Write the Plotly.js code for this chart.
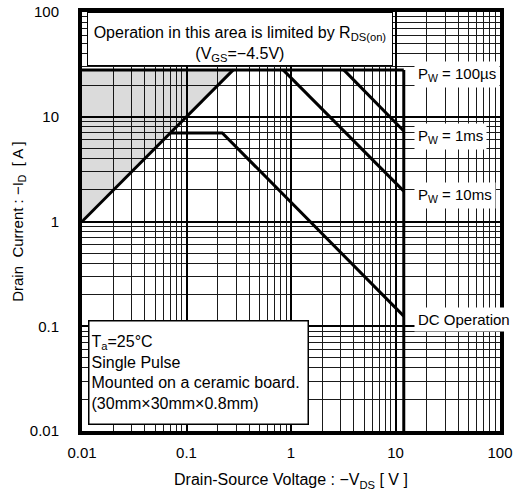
<!DOCTYPE html>
<html>
<head>
<meta charset="utf-8">
<script src="https://cdn.plot.ly/plotly-3.0.1.min.js"></script>
<style>
  html, body { margin: 0; padding: 0; background: #ffffff; }
  #chart { width: 515px; height: 495px; }
</style>
</head>
<body>
<div id="chart"></div>
<script>
// Safe operating area of a P-channel MOSFET (log-log)

// axis ticks
const xTickVals = [0.01, 0.1, 1, 10, 100];
const xTickText = ['0.01', '0.1', '1', '10', '100'];
const yTickVals = [0.01, 0.1, 1, 10, 100];
const yTickText = ['0.01', '0.1', '1', '10', '100'];

// region limited by R_DS(on)
const areaV = [0.01, 0.28, 0.01, 0.01];
const areaI = [1, 28, 28, 1];
const rdsV = [0.01, 0.28];
const rdsI = [1, 28];

// pulsed drain current limit (P_W = 100µs)
const pulseV = [0.01, 12];
const pulseI = [28, 28];

// drain-source voltage limit
const vdssV = [12, 12];
const vdssI = [28, 0.01];

// P_W = 1ms
const pw1msV = [3.2, 12];
const pw1msI = [28, 7.3];

// P_W = 10ms
const pw10msV = [0.84, 12];
const pw10msI = [28, 1.95];

// DC operation
const dcV = [0.07, 0.22, 12];
const dcI = [7, 7, 0.125];

const FONT = '"Liberation Sans", Arial, Helvetica, sans-serif';
const lineStyle = { color: '#000000', width: 3 };

function seg(x, y) {
  return { x: x, y: y, type: 'scatter', mode: 'lines', line: lineStyle,
           hoverinfo: 'skip', showlegend: false, cliponaxis: true };
}

const traces = [
  { x: areaV, y: areaI, type: 'scatter', mode: 'lines', fill: 'toself',
    fillcolor: 'rgba(0,0,0,0.14)', line: { width: 0, color: 'rgba(0,0,0,0)' },
    hoverinfo: 'skip', showlegend: false },
  seg(rdsV, rdsI),
  seg(pulseV, pulseI),
  seg(vdssV, vdssI),
  seg(pw1msV, pw1msI),
  seg(pw10msV, pw10msI),
  seg(dcV, dcI)
];

const gridAxis = {
  type: 'log',
  range: [-2, 2],
  tickmode: 'array',
  ticks: '',
  showline: true,
  mirror: true,
  linecolor: '#000000',
  linewidth: 4,
  showgrid: true,
  gridcolor: '#000000',
  gridwidth: 2,
  zeroline: false,
  tickfont: { family: FONT, size: 15, color: '#000000' },
  minor: { dtick: 'D1', showgrid: true, gridcolor: '#1a1a1a', gridwidth: 1, ticks: '' }
};

function rightLabel(text, yVal) {
  return {
    xref: 'x', yref: 'y', x: Math.log10(15), y: Math.log10(yVal),
    xanchor: 'left', yanchor: 'middle', showarrow: false,
    text: text, bgcolor: '#ffffff', borderpad: 3,
    font: { family: FONT, size: 15, color: '#000000' }
  };
}

const layout = {
  width: 515,
  height: 495,
  margin: { l: 82, r: 15, t: 12, b: 64, pad: 0 },
  paper_bgcolor: '#ffffff',
  plot_bgcolor: '#ffffff',
  font: { family: FONT, size: 15, color: '#000000' },
  showlegend: false,
  xaxis: Object.assign({}, gridAxis, {
    tickvals: xTickVals, ticktext: xTickText,
    ticklabelstandoff: 5,
    title: { text: 'Drain-Source Voltage : \u2212V<sub>DS</sub> [ V ]',
             font: { family: FONT, size: 16, color: '#000000' }, standoff: 15 }
  }),
  yaxis: Object.assign({}, gridAxis, {
    tickvals: yTickVals, ticktext: yTickText,
    ticklabelstandoff: 16,
    title: { text: 'Drain\u00a0 Current : \u2212I<sub>D</sub>\u00a0 [ A ]',
             font: { family: FONT, size: 15, color: '#000000' }, standoff: 4 }
  }),
  annotations: [
    {
      xref: 'paper', yref: 'paper', x: 0.012, y: 1, xanchor: 'left', yanchor: 'top',
      showarrow: false, align: 'center', valign: 'bottom', width: 302, height: 50,
      text: 'Operation in this area is limited by R<sub>DS(on)</sub><br>(V<sub>GS</sub>=\u22124.5V)',
      bgcolor: '#ffffff', bordercolor: '#000000', borderwidth: 1, borderpad: 1,
      font: { family: FONT, size: 16, color: '#000000' }
    },
    {
      xref: 'paper', yref: 'paper', x: 0.014, y: 0.014, xanchor: 'left', yanchor: 'bottom',
      showarrow: false, align: 'left', width: 214, height: 98,
      text: 'T<sub>a</sub>=25\u00b0C<br>Single Pulse<br>Mounted on a ceramic board.<br>(30mm\u00d730mm\u00d70.8mm)',
      bgcolor: '#ffffff', bordercolor: '#000000', borderwidth: 1.5, borderpad: 2,
      font: { family: FONT, size: 16, color: '#000000' }
    },
    rightLabel('P<sub>W</sub> = 100\u00b5s', 25.1),
    rightLabel('P<sub>W</sub> = 1ms', 6.46),
    rightLabel('P<sub>W</sub> = 10ms', 1.79),
    rightLabel('DC Operation', 0.116)
  ]
};

Plotly.newPlot('chart', traces, layout, { staticPlot: true, displayModeBar: false });
</script>
</body>
</html>
